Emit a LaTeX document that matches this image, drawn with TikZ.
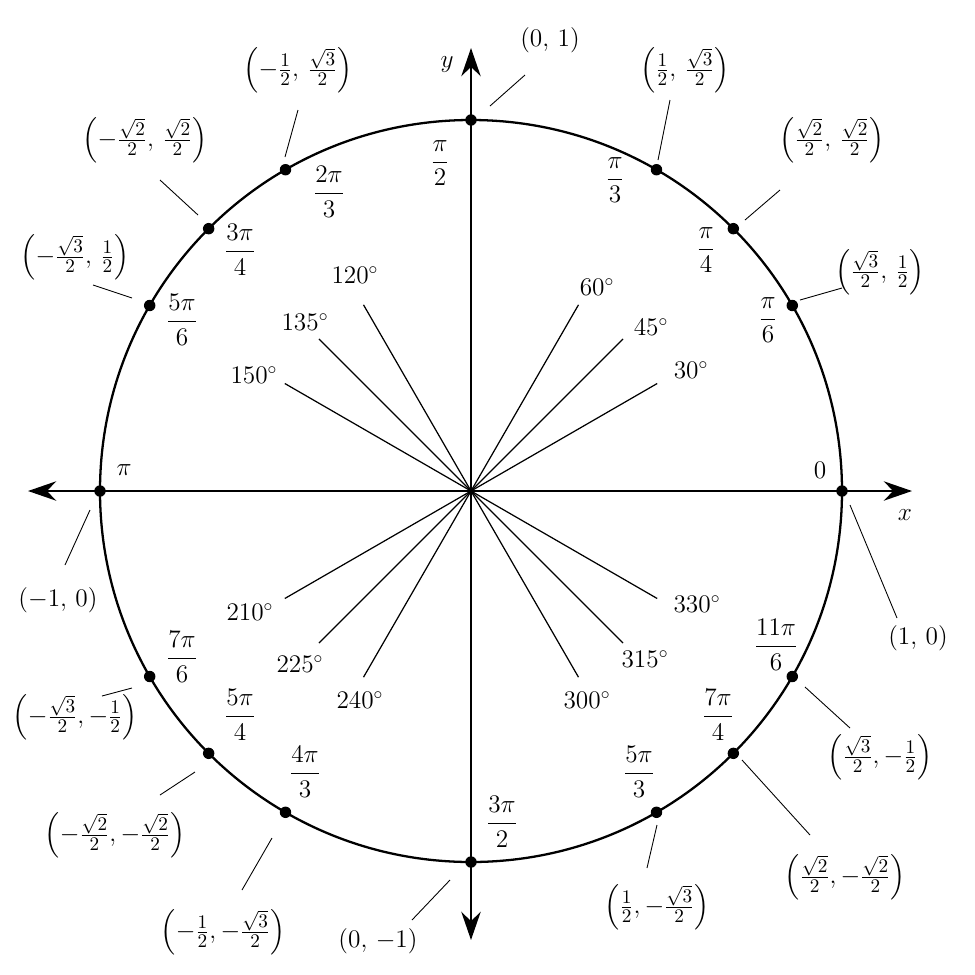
\documentclass[tikz,border=0pt]{standalone}
\usepackage{amsmath}
\usetikzlibrary{arrows.meta,calc}
\begin{document}
\begin{tikzpicture}[x=0.02cm,y=-0.02cm,
  lab/.style={font=\fontsize{14}{17}\selectfont, inner sep=0pt},
  clab/.style={font=\fontsize{15}{18}\selectfont, inner sep=0pt},
  leader/.style={line width=0.5pt},
  dot/.style={circle,fill=black,inner sep=0pt,minimum size=6.5pt},
  ray/.style={line width=0.7pt}]
\useasboundingbox (0,0) rectangle (975,975);
\coordinate (O) at (471,491);
\draw[line width=1.3pt] (O) circle[radius=371];
\draw[line width=1.3pt,{Stealth[length=16pt,width=11pt]}-{Stealth[length=16pt,width=11pt]}] (28,491) -- (912,491);
\draw[line width=1.3pt,{Stealth[length=16pt,width=11pt]}-{Stealth[length=16pt,width=11pt]}] (471,48) -- (471,940);
\node[lab] (xl) at (905,515) {$x$};
\node[lab] (yl) at (447,65) {$y$};
% dots
\foreach \a in {0,30,45,60,90,120,135,150,180,210,225,240,270,300,315,330}
  \node[dot] (p\a) at ($(O)+(\a:371 and -371)$) {};
% rays and degree labels
\foreach \a/\x/\y in {30/691/370,45/651/327,60/597/287,120/355/275,135/305/322,150/254/375,210/250/612,225/300/664,240/360/700,300/587/700,315/645/659,330/697/604}{
  \coordinate (r\a) at ($(O)+(\a:215 and -215)$);
  \draw[ray] (O) -- (r\a);
  \node[lab] (d\a) at (\x,\y) {$\a^\circ$};
}
% radian labels
\foreach \t/\x/\y/\n in {{\dfrac{\pi}{2}}/440/163/a,{\dfrac{2\pi}{3}}/329/192/b,{\dfrac{3\pi}{4}}/240/250/c,{\dfrac{5\pi}{6}}/182/320/d,{\pi}/124/470/e,{\dfrac{7\pi}{6}}/182/657/f,{\dfrac{5\pi}{4}}/240/715/g,{\dfrac{4\pi}{3}}/305/772/h,{\dfrac{3\pi}{2}}/502/822/i,{\dfrac{5\pi}{3}}/639/772/j,{\dfrac{7\pi}{4}}/718/715/k,{\dfrac{11\pi}{6}}/776/645/l,{0}/820/470/m,{\dfrac{\pi}{6}}/768/320/n,{\dfrac{\pi}{4}}/706/250/o,{\dfrac{\pi}{3}}/615/180/q}
  \node[lab] (rad\n) at (\x,\y) {$\t$};
% coordinate labels with leaders
\foreach \t/\x/\y/\ax/\ay/\bx/\by/\n in {
 {(0,\,1)}/550/40/490/106/525/75/c1,
 {\left(\frac{1}{2},\,\frac{\sqrt{3}}{2}\right)}/685/70/658/160/670/100/c2,
 {\left(\frac{\sqrt{2}}{2},\,\frac{\sqrt{2}}{2}\right)}/832/140/745/220/780/190/c3,
 {\left(\frac{\sqrt{3}}{2},\,\frac{1}{2}\right)}/880/272/800/300/842/288/c4,
 {(1,\,0)}/918/638/850/505/897/618/c5,
 {\left(\frac{\sqrt{3}}{2},-\frac{1}{2}\right)}/880/757/805/687/850/728/c6,
 {\left(\frac{\sqrt{2}}{2},-\frac{\sqrt{2}}{2}\right)}/845/877/742/760/810/835/c7,
 {\left(\frac{1}{2},-\frac{\sqrt{3}}{2}\right)}/657/907/657/825/647/868/c8,
 {(0,\,-1)}/378/941/450/880/412/920/c9,
 {\left(-\frac{1}{2},-\frac{\sqrt{3}}{2}\right)}/223/932/272/838/242/890/c10,
 {\left(-\frac{\sqrt{2}}{2},-\frac{\sqrt{2}}{2}\right)}/115/835/195/772/160/795/c11,
 {\left(-\frac{\sqrt{3}}{2},-\frac{1}{2}\right)}/75/717/132/688/102/696/c12,
 {(-1,\,0)}/58/600/90/510/65/565/c13,
 {\left(-\frac{\sqrt{3}}{2},\,\frac{1}{2}\right)}/75/257/132/298/93/285/c14,
 {\left(-\frac{\sqrt{2}}{2},\,\frac{\sqrt{2}}{2}\right)}/145/140/198/215/160/180/c15,
 {\left(-\frac{1}{2},\,\frac{\sqrt{3}}{2}\right)}/298/70/285/157/298/110/c16}{
  \node[clab] (\n) at (\x,\y) {$\t$};
  \coordinate (\n a) at (\ax,\ay);
  \coordinate (\n b) at (\bx,\by);
  \draw[leader] (\n a) -- (\n b);
}
\end{tikzpicture}
\end{document}
